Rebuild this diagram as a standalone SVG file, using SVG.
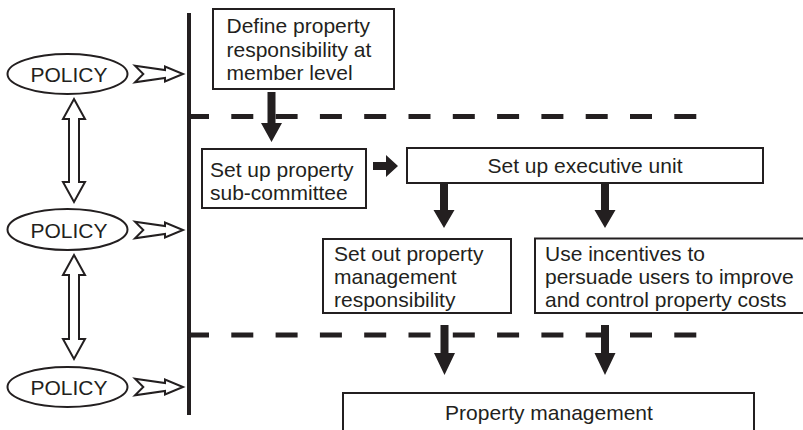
<svg xmlns="http://www.w3.org/2000/svg" width="803" height="430" viewBox="0 0 803 430">
<style>
  .box { fill: #ffffff; stroke: #231f20; stroke-width: 2; }
  .ell { fill: #ffffff; stroke: #231f20; stroke-width: 2; }
  .t { font-family: "Liberation Sans", Arial, sans-serif; font-size: 21px; fill: #231f20; }
  .tc { text-anchor: middle; }
  .solid { fill: #231f20; stroke: none; }
  .hollow { fill: #ffffff; stroke: #231f20; stroke-width: 2; stroke-linejoin: miter; }
  .dash { stroke: #231f20; stroke-width: 5; stroke-dasharray: 22 22.3; fill: none; }
  .spine { stroke: #231f20; stroke-width: 4; fill: none; }
</style>
<rect width="803" height="430" fill="#ffffff"/>

<g id="connectors">
  <line class="spine" x1="189" y1="13" x2="189" y2="415"/>
  <line class="dash" x1="187" y1="116.5" x2="700" y2="116.5"/>
  <line class="dash" x1="187" y1="335" x2="700" y2="335"/>
  <!-- policy to spine hollow arrows -->
  <polygon class="hollow" points="135,65.7 165,70 165,66.5 183,74 165,81.5 165,78 135,82.3 143.3,74"/>
  <polygon class="hollow" points="135,221.7 165,226 165,222.5 183,230 165,237.5 165,234 135,238.3 143.3,230"/>
  <polygon class="hollow" points="135,378.7 165,383 165,379.5 183,387 165,394.5 165,391 135,395.3 143.3,387"/>
  <!-- double arrows between policies -->
  <polygon class="hollow" points="74,99 85,119 79,119 79,182 85,182 74,202 63,182 69,182 69,119 63,119"/>
  <polygon class="hollow" points="74,255 85,275 79,275 79,339 85,339 74,359 63,339 69,339 69,275 63,275"/>
  <!-- solid arrows -->
  <polygon class="solid" points="267.5,92 275.5,92 275.5,123 282,123 271.5,142 261,123 267.5,123"/>
  <polygon class="solid" points="373,162 386,162 386,155 398,166 386,177 386,170 373,170"/>
  <polygon class="solid" points="440,184 448,184 448,210 454.5,210 444,228 433.5,210 440,210"/>
  <polygon class="solid" points="601,184 609,184 609,210 615.5,210 605,228 594.5,210 601,210"/>
  <polygon class="solid" points="440.5,325 448.5,325 448.5,353 455,353 444.5,375 434,353 440.5,353"/>
  <polygon class="solid" points="601,325 609,325 609,353 615.5,353 605,375 594.5,353 601,353"/>
</g>

<g id="policy1">
  <ellipse class="ell" cx="67.5" cy="74" rx="60" ry="20"/>
  <text class="t tc" x="69" y="82">POLICY</text>
</g>
<g id="policy2">
  <ellipse class="ell" cx="67.5" cy="229.5" rx="60" ry="20.5"/>
  <text class="t tc" x="69" y="237.5">POLICY</text>
</g>
<g id="policy3">
  <ellipse class="ell" cx="67.5" cy="387" rx="60" ry="20"/>
  <text class="t tc" x="69" y="395">POLICY</text>
</g>

<g id="define">
  <rect class="box" x="213" y="9" width="181" height="80"/>
  <text class="t" x="226.5" y="33">Define property</text>
  <text class="t" x="226.5" y="56.5">responsibility at</text>
  <text class="t" x="226.5" y="80">member level</text>
</g>

<g id="subcommittee">
  <rect class="box" x="202" y="149" width="164" height="59"/>
  <text class="t" x="210" y="176.5">Set up property</text>
  <text class="t" x="210" y="199.5">sub-committee</text>
</g>

<g id="executive">
  <rect class="box" x="407" y="148" width="356" height="35"/>
  <text class="t tc" x="585" y="173">Set up executive unit</text>
</g>

<g id="setout">
  <rect class="box" x="323" y="239" width="188" height="74"/>
  <text class="t" x="334" y="261">Set out property</text>
  <text class="t" x="334" y="284">management</text>
  <text class="t" x="334" y="307">responsibility</text>
</g>

<g id="incentives">
  <rect class="box" x="535" y="238.5" width="280" height="74.5"/>
  <text class="t" x="545" y="261">Use incentives to</text>
  <text class="t" x="545" y="284">persuade users to improve</text>
  <text class="t" x="545" y="307">and control property costs</text>
</g>

<g id="propertymanagement">
  <rect class="box" x="343" y="393" width="411" height="50"/>
  <text class="t tc" x="549" y="420">Property management</text>
</g>
</svg>
